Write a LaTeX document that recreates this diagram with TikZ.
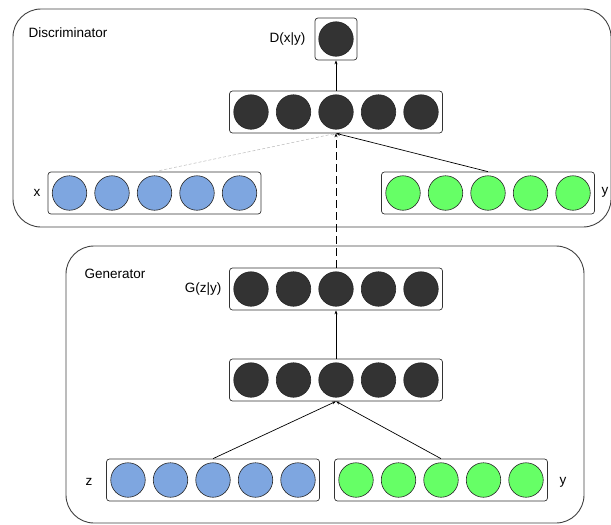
\documentclass[tikz,border=0pt]{standalone}
\usepackage{fontspec}
\setmainfont{Liberation Sans}
\usepackage{xcolor}
\usepackage{tikz}
\usetikzlibrary{arrows.meta, positioning, calc}

\definecolor{darkunit}{HTML}{333333}
\definecolor{blueunit}{HTML}{7EA6E0}
\definecolor{greenunit}{HTML}{66FF66}

\begin{document}
\begin{tikzpicture}[x=1pt, y=-1pt,
    panel/.style={rectangle, draw=black!75, line width=0.9pt, rounded corners=28pt, inner sep=0pt},
    layerbox/.style={rectangle, draw=black!80, line width=0.7pt, rounded corners=3pt, minimum width=213pt, minimum height=42pt, inner sep=0pt},
    outbox/.style={rectangle, draw=black!80, line width=0.7pt, rounded corners=3pt, minimum width=42pt, minimum height=42pt, inner sep=0pt},
    neuron/.style={circle, draw=black!85, line width=0.6pt, minimum size=34.5pt, inner sep=0pt},
    lbl/.style={font=\fontsize{13.5}{16}\selectfont},
    arrow/.style={-{Stealth[length=4pt, width=3pt]}, line width=0.7pt}
]
\useasboundingbox (0,0) rectangle (611,525);

% panels
\node[panel, minimum width=598pt, minimum height=218pt] (disc) at (312,118) {};
\node[panel, minimum width=518pt, minimum height=277pt] (gen) at (325,384.5) {};
\node[lbl, anchor=west] (disclbl) at (25,33) {Discriminator};
\node[lbl, anchor=west] (genlbl) at (81,274) {Generator};

% discriminator layers
\node[outbox] (dout) at (336,39) {};
\node[neuron, fill=darkunit] (dout-0) at (dout) {};
\node[layerbox] (dh) at (336,112) {};
\node[layerbox] (dx) at (154.5,193) {};
\node[layerbox] (dy) at (488,193) {};
\foreach \i in {0,...,4} {
  \node[neuron, fill=darkunit] (dh-\i) at ($(dh)+(\i*42.5-85,0)$) {};
  \node[neuron, fill=blueunit] (dx-\i) at ($(dx)+(\i*42.5-85,0)$) {};
  \node[neuron, fill=greenunit] (dy-\i) at ($(dy)+(\i*42.5-85,0)$) {};
}
\node[lbl, anchor=east] (doutlbl) at (309,39) {D(x|y)};
\node[lbl] (dxlbl) at (37,193) {x};
\node[lbl] (dylbl) at (605,192) {y};

% generator layers
\node[layerbox] (gout) at (336,289) {};
\node[layerbox] (gh) at (336,380) {};
\node[layerbox] (gz) at (213,480) {};
\node[layerbox] (gy) at (441,480) {};
\foreach \i in {0,...,4} {
  \node[neuron, fill=darkunit] (gout-\i) at ($(gout)+(\i*42.5-85,0)$) {};
  \node[neuron, fill=darkunit] (gh-\i) at ($(gh)+(\i*42.5-85,0)$) {};
  \node[neuron, fill=blueunit] (gz-\i) at ($(gz)+(\i*42.5-85,0)$) {};
  \node[neuron, fill=greenunit] (gy-\i) at ($(gy)+(\i*42.5-85,0)$) {};
}
\node[lbl, anchor=east] (goutlbl) at (225,289) {G(z|y)};
\node[lbl] (gzlbl) at (89,482) {z};
\node[lbl] (gylbl) at (563,482) {y};

% connections
\draw[arrow] (dh.north) -- (dout.south);
\draw[arrow, dash pattern=on 3pt off 2pt, gray!55, line width=0.5pt] (dx.north) -- (dh.south);
\draw[arrow] (dy.north) -- (dh.south);
\draw[arrow, dash pattern=on 8pt off 4pt] (gout.north) -- (dh.south);
\draw[arrow] (gh.north) -- (gout.south);
\draw[arrow] (gz.north) -- (gh.south);
\draw[arrow] (gy.north) -- (gh.south);
\end{tikzpicture}
\end{document}
